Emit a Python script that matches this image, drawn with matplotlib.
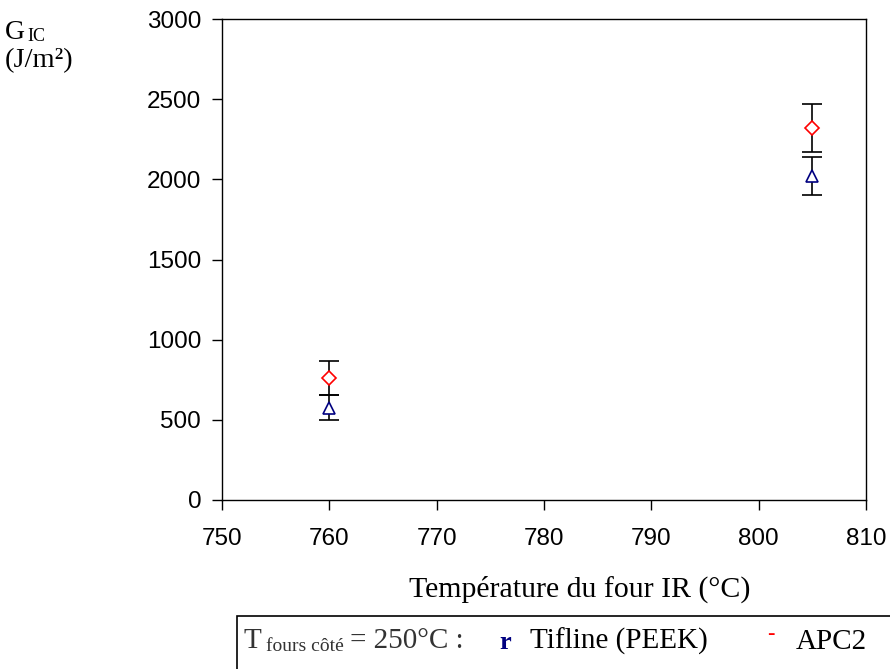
import matplotlib
matplotlib.use('Agg')
from matplotlib import pyplot as plt
from matplotlib.patches import Rectangle

# four IR temperatures (°C)
temperatures = [760, 805]

# APC2 (red diamonds)
apc2_gic = [760, 2320]
apc2_err = [105, 148]

# Tifline PEEK (blue triangles)
tifline_gic = [575, 2020]
tifline_err = [78, 118]

W, H = 890, 669
fig = plt.figure(figsize=(W / 100, H / 100), dpi=100)
ax = fig.add_axes([222 / W, 1 - 500 / H, (866 - 222) / W, (500 - 19) / H])

ax.errorbar(temperatures, tifline_gic, yerr=tifline_err, fmt='none', ecolor='black',
            elinewidth=1.2, capsize=7, capthick=1.2, zorder=2)
ax.errorbar(temperatures, apc2_gic, yerr=apc2_err, fmt='none', ecolor='black',
            elinewidth=1.2, capsize=7, capthick=1.2, zorder=2)
ax.plot(temperatures, tifline_gic, linestyle='none', marker='^', markersize=9,
        markerfacecolor='white', markeredgecolor='#000080', markeredgewidth=1.2, zorder=3)
ax.plot(temperatures, apc2_gic, linestyle='none', marker='D', markersize=7.5,
        markerfacecolor='white', markeredgecolor='red', markeredgewidth=1.2, zorder=3)

ax.set_xlim(750, 810)
ax.set_ylim(0, 3000)
ax.set_xticks(range(750, 811, 10))
ax.set_yticks(range(0, 3001, 500))
for lab in ax.get_xticklabels() + ax.get_yticklabels():
    lab.set_fontfamily('Liberation Sans')
    lab.set_fontsize(17.5)
ax.tick_params(axis='x', direction='out', length=7, width=1, pad=13)
ax.tick_params(axis='y', direction='out', length=7, width=1, pad=8)
for s in ax.spines.values():
    s.set_linewidth(1.0)

serif = 'Liberation Serif'

# y label  G_IC (J/m²)
fig.text(5 / W, 1 - 39 / H, 'G', fontfamily=serif, fontsize=20, va='baseline', ha='left')
fig.text(27 / W, 1 - 41 / H, 'IC', fontfamily=serif, fontsize=13, va='baseline', ha='left')
fig.text(5 / W, 1 - 67 / H, '(J/m²)', fontfamily=serif, fontsize=20.5, va='baseline', ha='left')

# x label
fig.text(580 / W, 1 - 597 / H, 'Température du four IR (°C)', fontfamily=serif,
         fontsize=21.5, va='baseline', ha='center')

# legend box at the bottom
fig.patches.append(Rectangle((237 / W, -0.05), 1.0, 1 - 616 / H + 0.05,
                             transform=fig.transFigure, fill=False,
                             edgecolor='black', linewidth=1.2))
fig.text(243 / W, 1 - 648 / H, 'T', fontfamily=serif, fontsize=21, va='baseline',
         ha='left', color='#333333')
fig.text(266 / W, 1 - 651 / H, 'fours côté', fontfamily=serif, fontsize=14,
         va='baseline', ha='left', color='#333333')
fig.text(350 / W, 1 - 648 / H, '= 250°C :', fontfamily=serif, fontsize=21,
         va='baseline', ha='left', color='#333333')
fig.text(499 / W, 1 - 649 / H, 'r', fontfamily=serif, fontsize=19, fontweight='bold',
         va='baseline', ha='left', color='#000080')
fig.text(530 / W, 1 - 649 / H, 'Tifline (PEEK)', fontfamily=serif, fontsize=21,
         va='baseline', ha='left')
fig.text(767 / W, 1 - 639 / H, '-', fontfamily=serif, fontsize=16,
         va='baseline', ha='left', color='red')
fig.text(796 / W, 1 - 649 / H, 'APC2', fontfamily=serif, fontsize=21,
         va='baseline', ha='left')

fig.savefig('out.png', dpi=100)
